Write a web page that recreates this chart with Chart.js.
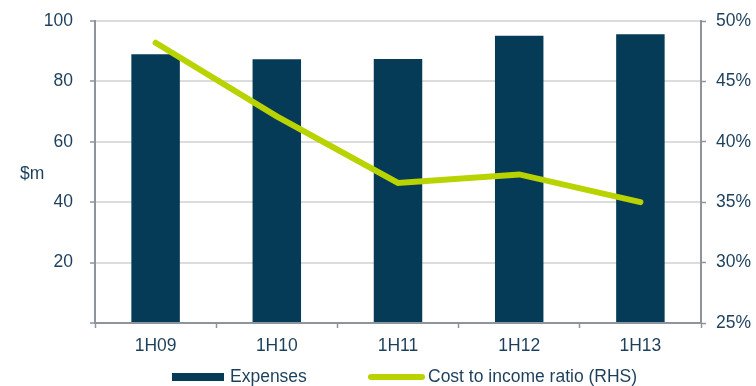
<!DOCTYPE html>
<html>
<head>
<meta charset="utf-8">
<style>
  html, body { margin: 0; padding: 0; background: #ffffff; }
  #wrap { width: 756px; height: 386px; position: relative; }
</style>
<script src="https://cdn.jsdelivr.net/npm/chart.js@4/dist/chart.umd.min.js"></script>
</head>
<body>
<div id="wrap"><canvas id="chart" width="756" height="386"></canvas></div>
<script>
// Half-year periods
const periods = ['1H09', '1H10', '1H11', '1H12', '1H13'];
// Operating expenses, $m (left axis)
const expenses = [89.0, 87.3, 87.4, 95.1, 95.6];
// Cost to income ratio, % (right axis)
const costToIncome = [48.2, 42.1, 36.6, 37.3, 35.0];
// Axis tick values
const leftTicks = [0, 20, 40, 60, 80, 100];
const rightTicks = [25, 30, 35, 40, 45, 50];

const TEXT = '#1c3f5c';
const AXIS = '#8d949b';
const GRID = '#dcdcdc';
const BAR = '#053b57';
const LINE = '#b9d300';
const FONT = { family: '"Liberation Sans", Arial, sans-serif', size: 17.5 };

// Unit label beside the left axis and the legend row beneath the plot
const annotations = {
  id: 'annotations',
  afterDraw(chart) {
    const ctx = chart.ctx;
    const area = chart.chartArea;
    ctx.save();
    ctx.font = FONT.size + 'px ' + FONT.family;
    ctx.fillStyle = TEXT;
    ctx.textBaseline = 'middle';
    ctx.textAlign = 'left';
    ctx.fillText('$m', 20, (area.top + area.bottom) / 2 + 2);

    const ly = 377;
    const bars = chart.data.datasets[0];
    const line = chart.data.datasets[1];
    ctx.fillStyle = bars.backgroundColor;
    ctx.fillRect(172, ly - 4, 52, 8);
    ctx.fillStyle = TEXT;
    ctx.fillText(bars.label, 230, ly);

    ctx.strokeStyle = line.borderColor;
    ctx.lineWidth = 6;
    ctx.lineCap = 'round';
    ctx.beginPath();
    ctx.moveTo(371, ly);
    ctx.lineTo(422, ly);
    ctx.stroke();
    ctx.fillText(line.label, 428, ly);
    ctx.restore();
  }
};

// Fixed axis box sizes; end-label overhang is already covered by layout padding
function fixWidth(w) {
  return scale => { scale.width = w; scale.paddingTop = 0; scale.paddingBottom = 0; };
}

new Chart(document.getElementById('chart'), {
  data: {
    labels: periods,
    datasets: [
      {
        type: 'bar',
        label: 'Expenses',
        data: expenses,
        backgroundColor: BAR,
        borderWidth: 0,
        barPercentage: 0.4,
        categoryPercentage: 1.0,
        yAxisID: 'y',
        order: 2
      },
      {
        type: 'line',
        label: 'Cost to income ratio (RHS)',
        data: costToIncome,
        borderColor: LINE,
        backgroundColor: LINE,
        borderWidth: 6,
        borderCapStyle: 'round',
        borderJoinStyle: 'miter',
        pointRadius: 0,
        tension: 0,
        yAxisID: 'y1',
        order: 1
      }
    ]
  },
  options: {
    responsive: false,
    animation: false,
    devicePixelRatio: 1,
    layout: { padding: { top: 21, bottom: 23, left: 0, right: 0 } },
    plugins: {
      legend: { display: false },
      tooltip: { enabled: false }
    },
    scales: {
      x: {
        offset: true,
        grid: { offset: true, drawOnChartArea: false, tickLength: 5, tickColor: AXIS, tickWidth: 1.5 },
        border: { color: AXIS, width: 2 },
        ticks: { color: TEXT, font: FONT, padding: 8, maxRotation: 0 },
        afterFit(scale) { scale.height = 40; scale.paddingLeft = 0; scale.paddingRight = 0; }
      },
      y: {
        position: 'left',
        min: 0,
        max: 100,
        afterBuildTicks(scale) { scale.ticks = leftTicks.map(v => ({ value: v })); },
        grid: { color: GRID, lineWidth: 2, tickLength: 5, tickColor: AXIS, tickWidth: 1.5 },
        border: { color: AXIS, width: 2 },
        ticks: {
          color: TEXT, font: FONT, padding: 17,
          callback: v => (v === 0 ? '' : String(v))
        },
        afterFit: fixWidth(95)
      },
      y1: {
        position: 'right',
        min: 25,
        max: 50,
        afterBuildTicks(scale) { scale.ticks = rightTicks.map(v => ({ value: v })); },
        grid: { drawOnChartArea: false, tickLength: 5, tickColor: AXIS, tickWidth: 1.5 },
        border: { color: AXIS, width: 2 },
        ticks: { color: TEXT, font: FONT, padding: 10, callback: v => v + '%' },
        afterFit: fixWidth(55)
      }
    }
  },
  plugins: [annotations]
});
</script>
</body>
</html>
